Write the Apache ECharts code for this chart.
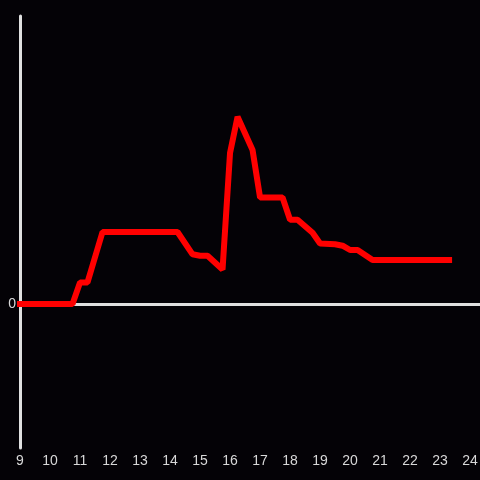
<!DOCTYPE html>
<html>
<head>
<meta charset="utf-8">
<script src="https://cdn.jsdelivr.net/npm/echarts@6/dist/echarts.min.js"></script>
<style>
  html, body { margin: 0; padding: 0; background: #040206; }
  #chart { width: 480px; height: 480px; }
</style>
</head>
<body>
<div id="chart"></div>
<script>
// 时间 (小时) 与数值
const hours = [9, 10.75, 11.0, 11.25, 11.75, 14.25, 14.75, 15.0, 15.25, 15.75, 16.0, 16.25,
    16.75, 17.0, 17.75, 18.0, 18.25, 18.75, 19.0, 19.5, 19.75, 20.0, 20.25, 20.75, 23.3];
const values = [0, 0, 0.3, 0.3, 1.0, 1.0, 0.69, 0.67, 0.67, 0.48, 2.1, 2.6,
    2.14, 1.48, 1.48, 1.17, 1.17, 0.99, 0.84, 0.83, 0.81, 0.75, 0.75, 0.61, 0.61];
const xTicks = [9, 10, 11, 12, 13, 14, 15, 16, 17, 18, 19, 20, 21, 22, 23, 24];

const axisColor = '#e0e0e0';
const labelColor = '#d8d8d8';

const chart = echarts.init(document.getElementById('chart'));

chart.setOption({
    backgroundColor: '#040206',
    animation: false,
    grid: {
        left: 20,
        right: 0,
        top: 16,
        bottom: 32,
        outerBoundsMode: 'none'
    },
    xAxis: [
        {
            // 底部刻度标签
            type: 'value',
            min: 9,
            max: 24.33,
            interval: 1,
            axisLine: { show: false, onZero: false },
            axisTick: { show: false },
            splitLine: { show: false },
            axisLabel: {
                color: labelColor,
                fontSize: 14,
                margin: 6,
                formatter: v => xTicks.indexOf(v) >= 0 ? String(v) : ''
            }
        },
        {
            // 零线
            type: 'value',
            min: 9,
            max: 24.33,
            position: 'top',
            axisLine: { show: true, onZero: true, lineStyle: { color: axisColor, width: 3 } },
            axisTick: { show: false },
            axisLabel: { show: false },
            splitLine: { show: false }
        }
    ],
    yAxis: {
        type: 'value',
        min: -2,
        max: 4,
        interval: 2,
        axisLine: { show: true, lineStyle: { color: axisColor, width: 3 } },
        axisTick: { show: false },
        splitLine: { show: false },
        axisLabel: {
            color: labelColor,
            fontSize: 14,
            margin: 4,
            formatter: v => v === 0 ? '0' : ''
        }
    },
    series: [
        {
            type: 'line',
            xAxisIndex: 0,
            clip: false,
            data: hours.map((h, i) => [h, values[i]]),
            symbol: 'none',
            lineStyle: { color: '#ff0000', width: 6, cap: 'square' }
        }
    ]
});
</script>
</body>
</html>
